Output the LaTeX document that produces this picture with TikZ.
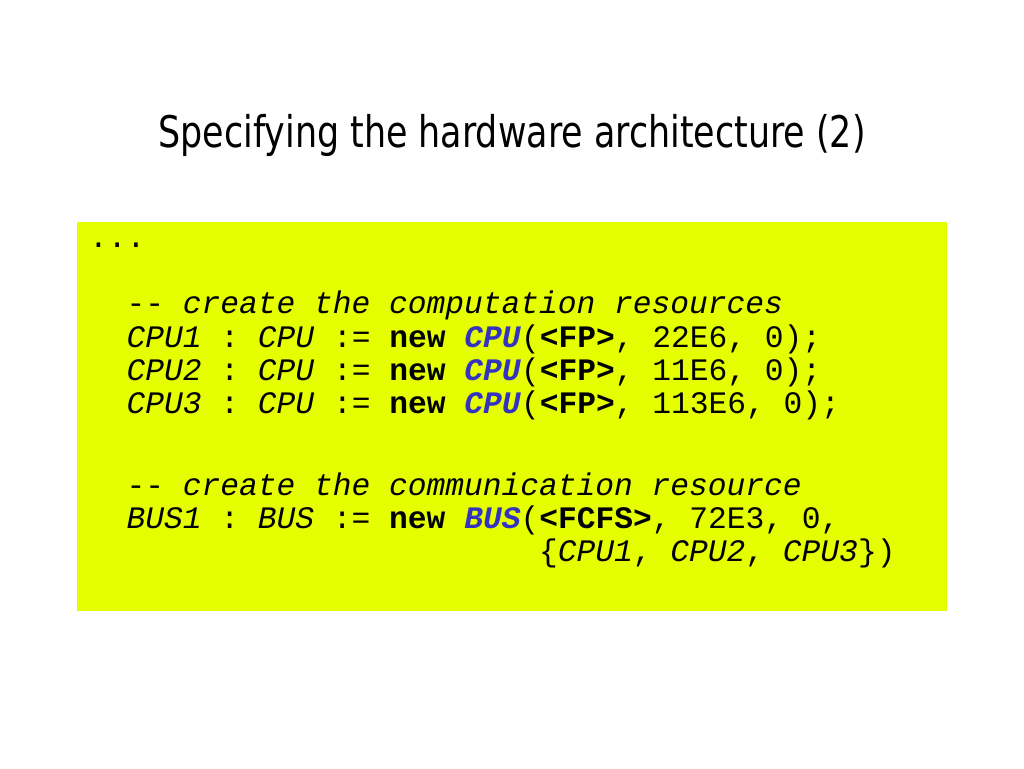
\documentclass[tikz,border=0pt]{standalone}
\usepackage{fontspec}
\setmainfont{Liberation Sans}
\setmonofont{Liberation Mono}
\newfontfamily\titlefont[FakeStretch=0.80]{DejaVu Sans}
\definecolor{boxyellow}{RGB}{229,255,0}
\definecolor{kwblue}{RGB}{51,51,190}
\newcommand\kwnew{\textbf{new}}
\newcommand\typ[1]{\textcolor{kwblue}{\textbf{\textit{#1}}}}
\tikzset{
  codeline/.style={anchor=base west, inner sep=0pt, font=\fontsize{31.25}{33}\selectfont\ttfamily},
  titletext/.style={anchor=base, inner sep=0pt, font=\fontsize{43.6}{48}\selectfont\titlefont}
}
\begin{document}
\begin{tikzpicture}[x=1pt,y=-1pt]
\useasboundingbox (0,0) rectangle (1024,768);
\fill[white] (0,0) rectangle (1024,768);
\node[titletext] (title) at (512,147) {Specifying the hardware architecture (2)};
\fill[boxyellow] (77,222) rectangle (947,611);
\node[codeline] (l0) at (89,247) {...};
\node[codeline] (l1) at (126.5,313) {-- \textit{create the computation resources}};
\node[codeline] (l2) at (126.5,347) {\textit{CPU1} : \textit{CPU} := \kwnew{} \typ{CPU}(\textbf{<FP>}, 22E6, 0);};
\node[codeline] (l3) at (126.5,380) {\textit{CPU2} : \textit{CPU} := \kwnew{} \typ{CPU}(\textbf{<FP>}, 11E6, 0);};
\node[codeline] (l4) at (126.5,413) {\textit{CPU3} : \textit{CPU} := \kwnew{} \typ{CPU}(\textbf{<FP>}, 113E6, 0);};
\node[codeline] (l5) at (126.5,495) {-- \textit{create the communication resource}};
\node[codeline] (l6) at (126.5,528) {\textit{BUS1} : \textit{BUS} := \kwnew{} \typ{BUS}(\textbf{<FCFS>}, 72E3, 0,};
\node[codeline] (l7) at (539,561) {\{\textit{CPU1}, \textit{CPU2}, \textit{CPU3}\})};
\end{tikzpicture}
\end{document}
